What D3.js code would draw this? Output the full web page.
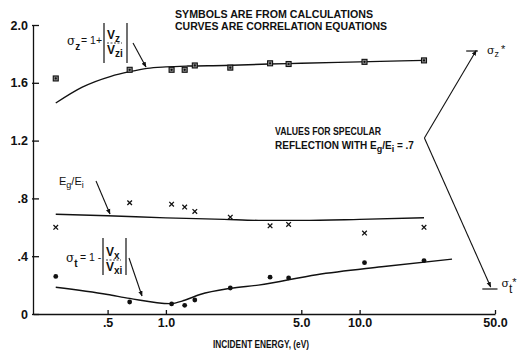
<!DOCTYPE html>
<html>
<head>
<meta charset="utf-8">
<script src="https://cdn.jsdelivr.net/npm/d3@7"></script>
<style>
    body { margin: 0; background: #fff; }
    svg { display: block; }
    text { font-family: "Liberation Sans Narrow", "Liberation Sans", "DejaVu Sans", sans-serif; fill: #111; }
    .axis path, .axis line { stroke: #111; stroke-width: 1.3; }
    .axis text { font-size: 12.5px; font-weight: bold; }
</style>
</head>
<body>
<div id="chart"></div>
<script>
// Punts calculats (símbols)
const energy = [0.27, 0.65, 1.07, 1.25, 1.41, 2.15, 3.45, 4.3, 10.6, 21.5];
const sigmaZ = [1.63, 1.69, 1.69, 1.69, 1.72, 1.705, 1.735, 1.73, 1.745, 1.755];
const energyRatio = [0.60, 0.77, 0.76, 0.74, 0.71, 0.67, 0.61, 0.62, 0.56, 0.60];
const sigmaT = [0.26, 0.083, 0.07, 0.06, 0.097, 0.18, 0.255, 0.25, 0.355, 0.37];

// Corbes de correlació
const curveZEnergy = [0.27, 0.37, 0.52, 0.65, 0.8, 1.0, 1.3, 2.0, 3.4, 5, 10, 21.5];
const curveZValue = [1.46, 1.57, 1.645, 1.677, 1.70, 1.71, 1.716, 1.72, 1.73, 1.735, 1.745, 1.755];
const curveEEnergy = [0.27, 0.5, 1.0, 2.0, 3.0, 5, 10, 21.5];
const curveEValue = [0.69, 0.68, 0.665, 0.655, 0.648, 0.648, 0.655, 0.666];
const curveTEnergy = [0.27, 0.5, 0.65, 1.05, 1.25, 1.5, 2.15, 3.0, 6.0, 13, 30];
const curveTValue = [0.185, 0.135, 0.108, 0.072, 0.095, 0.135, 0.178, 0.2, 0.272, 0.327, 0.38];

// Valors de reflexió especular
const specularZ = 1.82;
const specularT = 0.173;

// Eixos
const xTicks = [0.5, 1, 5, 10, 50];
const xTickLabels = [".5", "1.0", "5.0", "10.0", "50.0"];
const yTicks = [0, 0.4, 0.8, 1.2, 1.6, 2.0];
const yTickLabels = ["0", ".4", ".8", "1.2", "1.6", "2.0"];

const width = 519, height = 356;
const margin = {top: 25, right: 24, bottom: 42, left: 33};

const svg = d3.select("#chart").append("svg")
    .attr("width", width)
    .attr("height", height);

const x = d3.scaleLog().domain([0.206, 50]).range([margin.left, width - margin.right]);
const y = d3.scaleLinear().domain([0, 2]).range([height - margin.bottom, margin.top]);

// Eix X
const xAxis = svg.append("g")
    .attr("class", "axis")
    .attr("transform", `translate(0, ${y(0)})`)
    .call(d3.axisBottom(x).tickValues(xTicks).tickSize(-4).tickSizeOuter(0)
        .tickFormat((d, i) => xTickLabels[i]));
xAxis.selectAll("text").attr("y", 4).attr("dy", "0.71em");

// Eix Y
const yAxis = svg.append("g")
    .attr("class", "axis")
    .attr("transform", `translate(${x(0.206)}, 0)`)
    .call(d3.axisLeft(y).tickValues(yTicks).tickSize(-6).tickSizeOuter(0)
        .tickFormat((d, i) => yTickLabels[i]));
yAxis.selectAll("text").attr("x", -5);
yAxis.selectAll(".tick line").attr("x1", -1);

svg.append("text")
    .attr("x", 261).attr("y", 348)
    .attr("text-anchor", "middle")
    .attr("textLength", 96).attr("lengthAdjust", "spacingAndGlyphs")
    .style("font-size", "11.5px").style("font-weight", "bold")
    .text("INCIDENT ENERGY, (eV)");

// Títol
svg.append("text")
    .attr("x", 175).attr("y", 18)
    .attr("textLength", 198).attr("lengthAdjust", "spacingAndGlyphs")
    .style("font-size", "10.5px").style("font-weight", "bold")
    .text("SYMBOLS ARE FROM CALCULATIONS");
svg.append("text")
    .attr("x", 175).attr("y", 30)
    .attr("textLength", 212).attr("lengthAdjust", "spacingAndGlyphs")
    .style("font-size", "10.5px").style("font-weight", "bold")
    .text("CURVES ARE CORRELATION EQUATIONS");

// Corbes
const line = d3.line()
    .x(d => x(d[0]))
    .y(d => y(d[1]))
    .curve(d3.curveMonotoneX);

[[curveZEnergy, curveZValue], [curveEEnergy, curveEValue], [curveTEnergy, curveTValue]]
    .forEach(([ex, vals]) => {
        svg.append("path")
            .datum(ex.map((e, i) => [e, vals[i]]))
            .attr("d", line)
            .attr("fill", "none")
            .attr("stroke", "#111")
            .attr("stroke-width", 1.4);
    });

// Símbols sigma_z (quadrats)
const zPts = svg.append("g").selectAll("g")
    .data(energy.map((e, i) => [e, sigmaZ[i]]))
    .join("g")
    .attr("transform", d => `translate(${x(d[0])}, ${y(d[1])})`);
zPts.append("rect")
    .attr("x", -2.5).attr("y", -2.5).attr("width", 5).attr("height", 5)
    .attr("fill", "#888").attr("stroke", "#111").attr("stroke-width", 1.1);
zPts.append("circle").attr("r", 1.1).attr("fill", "#111");

// Símbols Eg/Ei (creus)
svg.append("g").selectAll("path")
    .data(energy.map((e, i) => [e, energyRatio[i]]))
    .join("path")
    .attr("d", d => {
        const cx = x(d[0]), cy = y(d[1]), s = 2.3;
        return `M${cx - s},${cy - s}L${cx + s},${cy + s}M${cx - s},${cy + s}L${cx + s},${cy - s}`;
    })
    .attr("stroke", "#111").attr("stroke-width", 1.3);

// Símbols sigma_t (cercles plens)
svg.append("g").selectAll("circle")
    .data(energy.map((e, i) => [e, sigmaT[i]]))
    .join("circle")
    .attr("cx", d => x(d[0])).attr("cy", d => y(d[1]))
    .attr("r", 2.4).attr("fill", "#111");

// Fletxes
svg.append("defs").append("marker")
    .attr("id", "arrow")
    .attr("viewBox", "0 0 10 10")
    .attr("refX", 9).attr("refY", 5)
    .attr("markerWidth", 5).attr("markerHeight", 5)
    .attr("orient", "auto")
    .append("path").attr("d", "M0,1L10,5L0,9Z").attr("fill", "#111");

function arrow(x1, y1, x2, y2) {
    svg.append("line")
        .attr("x1", x1).attr("y1", y1).attr("x2", x2).attr("y2", y2)
        .attr("stroke", "#111").attr("stroke-width", 1.1)
        .attr("marker-end", "url(#arrow)");
}

// Etiqueta d'una equació amb fracció entre barres de valor absolut
function equation(g, sym, sub, op, num, numSub, den, denSub, barTop, barBottom) {
    const t = g.append("text").style("font-size", "12px");
    t.append("tspan").attr("x", 0).attr("y", 0).style("font-family", "DejaVu Serif, serif").text(sym);
    t.append("tspan").attr("dy", 5).style("font-size", "10px").style("font-weight", "bold").text(sub);
    g.append("text").attr("x", 14).attr("y", -1).style("font-size", "10.5px").text(op);

    g.append("line").attr("x1", 37).attr("x2", 37).attr("y1", barTop).attr("y2", barBottom)
        .attr("stroke", "#111").attr("stroke-width", 1.2);
    g.append("line").attr("x1", 60).attr("x2", 60).attr("y1", barTop).attr("y2", barBottom)
        .attr("stroke", "#111").attr("stroke-width", 1.2);
    g.append("line").attr("x1", 40).attr("x2", 55).attr("y1", -2).attr("y2", -2)
        .attr("stroke", "#111").attr("stroke-width", 0.8).attr("stroke-dasharray", "2,1.5");

    const n = g.append("text").attr("x", 40).attr("y", -6).style("font-size", "12px").style("font-weight", "bold");
    n.append("tspan").text(num);
    n.append("tspan").attr("dy", 3).style("font-size", "10px").text(numSub);
    const dd = g.append("text").attr("x", 40).attr("y", 9).style("font-size", "12px").style("font-weight", "bold");
    dd.append("tspan").text(den);
    dd.append("tspan").attr("dy", 3).style("font-size", "10px").text(denSub);
}

const gz = svg.append("g").attr("transform", "translate(67, 45)");
equation(gz, "σ", "z", "= 1+", "V", "z", "V", "zi", -22, 18);
arrow(133, 43, 146, 67);

const gt = svg.append("g").attr("transform", "translate(66, 262)");
equation(gt, "σ", "t", "= 1 -", "V", "x", "V", "xi", -24, 13);
arrow(129, 258, 142, 296);

// Etiqueta Eg/Ei
const ge = svg.append("text").attr("x", 59).attr("y", 185).style("font-size", "11px");
ge.append("tspan").text("E");
ge.append("tspan").attr("dy", 3).style("font-size", "9px").text("g");
ge.append("tspan").attr("dy", -3).text("/E");
ge.append("tspan").attr("dy", 3).style("font-size", "9px").text("i");
arrow(96, 181, 110, 214);

// Reflexió especular
svg.append("text")
    .attr("x", 275).attr("y", 135)
    .attr("textLength", 106).attr("lengthAdjust", "spacingAndGlyphs")
    .style("font-size", "10.5px").style("font-weight", "bold")
    .text("VALUES FOR SPECULAR");
const sp = svg.append("text").attr("x", 275).attr("y", 149).style("font-size", "10px").style("font-weight", "bold");
sp.append("tspan").text("REFLECTION WITH E");
sp.append("tspan").attr("dy", 3).style("font-size", "9px").text("g");
sp.append("tspan").attr("dy", -3).text("/E");
sp.append("tspan").attr("dy", 3).style("font-size", "9px").text("i");
sp.append("tspan").attr("dy", -3).text(" = .7");

// Marques sigma* i claudàtor
const vx = x(21.1), vy = y(1.218);
svg.append("line")
    .attr("x1", x(35.5)).attr("x2", x(40.8)).attr("y1", y(specularZ)).attr("y2", y(specularZ))
    .attr("stroke", "#111").attr("stroke-width", 1.2);
svg.append("line")
    .attr("x1", x(43)).attr("x2", x(51.5)).attr("y1", y(specularT)).attr("y2", y(specularT))
    .attr("stroke", "#111").attr("stroke-width", 1.2);
arrow(vx + 2, vy, x(40), y(specularZ) - 0.5);
arrow(vx + 2, vy, x(47.5), y(specularT) - 2);

const lz = svg.append("text").attr("x", x(40.8) + 9).attr("y", y(specularZ) + 3).style("font-size", "11px");
lz.append("tspan").style("font-family", "DejaVu Serif, serif").text("σ");
lz.append("tspan").attr("dy", 3).style("font-size", "9px").text("z");
lz.append("tspan").attr("dx", 2).attr("dy", -4).text("*");

const lt = svg.append("text").attr("x", x(51.5) + 4).attr("y", y(specularT) - 2).style("font-size", "11px");
lt.append("tspan").style("font-family", "DejaVu Serif, serif").text("σ");
lt.append("tspan").attr("dy", 6).style("font-size", "12px").text("t");
lt.append("tspan").attr("dy", -7).text("*");
</script>
</body>
</html>
